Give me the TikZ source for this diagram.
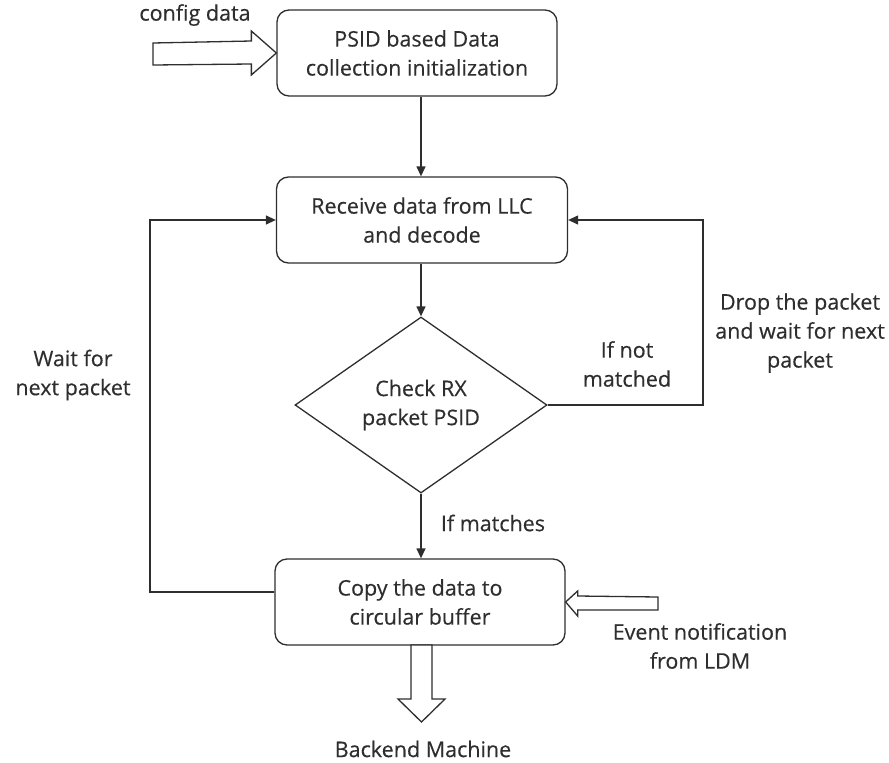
\documentclass[tikz,border=0pt]{standalone}
\usepackage{fontspec}
\setmainfont{Open Sans}[FakeBold=0.35]
\usetikzlibrary{shapes.geometric,arrows.meta,calc}
\definecolor{ink}{HTML}{2E2E2E}
\begin{document}
\begin{tikzpicture}[x=1pt,y=-1pt,
  every node/.style={font=\fontsize{21.5}{29}\selectfont, text=ink, align=center},
  procbox/.style={draw=ink, line width=1.3pt, rounded corners=12pt, minimum width=#1, minimum height=86pt, inner sep=0pt},
  decision/.style={draw=ink, line width=1.3pt, diamond, minimum width=252pt, minimum height=176pt, inner sep=0pt},
  flow/.style={draw=ink, line width=1.3pt, -{Triangle[length=10pt,width=9pt]}},
  hollow/.style={draw=ink, line width=1.3pt, fill=white, line join=miter},
  lbl/.style={inner sep=0pt}]
\useasboundingbox (0,0) rectangle (889,763);

% process steps
\node[procbox=280pt] (init) at (417,53) {PSID based Data\\collection initialization};
\node[procbox=291pt] (recv) at (422,220) {Receive data from LLC\\and decode};
\node[decision] (check) at (421,405) {Check RX\\packet PSID};
\node[procbox=290pt] (copy) at (420,602) {Copy the data to\\circular buffer};

% main flow (kept vertical)
\draw[flow] (init.south -| check.north) -- (recv.north -| check.north);
\draw[flow] (recv.south -| check.north) -- (check.north);
\draw[flow] (check.south) -- (check.south |- copy.north);

% not matched: back to receive
\coordinate (rturn) at (703,220);
\draw[flow] (check.east) -| (rturn) -- (recv.east);

% after copying: wait for next packet
\coordinate (lturn) at (150,592);
\draw[flow] ([yshift=10pt]copy.west) -- (lturn) |- (recv.west);

% hollow block arrows
\coordinate (cfgtip) at (init.west);
\draw[hollow] (cfgtip) -- ++(-25,-22) -- ++(0,10) -- (153,43) -- (153,65) -- ($(cfgtip)+(-25,11)$) -- ++(0,11) -- cycle;

\coordinate (evtip) at (copy.east);
\draw[hollow] (evtip) -- ++(12,-11) -- ++(0,5) -- (658,597) -- (658,610) -- ($(evtip)+(12,8)$) -- ++(0,6) -- cycle;

\coordinate (bktip) at (421.5,722);
\draw[hollow] (bktip) -- (445,699) -- (432,699) -- (432,645) -- (411,645) -- (411,699) -- (398,699) -- cycle;

% labels
\node[lbl] at (195,15) {config data};
\node[lbl] at (493,523) {If matches};
\node[lbl] at (627,364) {If not\\matched};
\node[lbl] at (800,333) {Drop the packet\\and wait for next\\packet};
\node[lbl] at (73,375) {Wait for\\next packet};
\node[lbl] at (700,646) {Event notification\\from LDM};
\node[lbl] at (423,749) {Backend Machine};
\end{tikzpicture}
\end{document}
